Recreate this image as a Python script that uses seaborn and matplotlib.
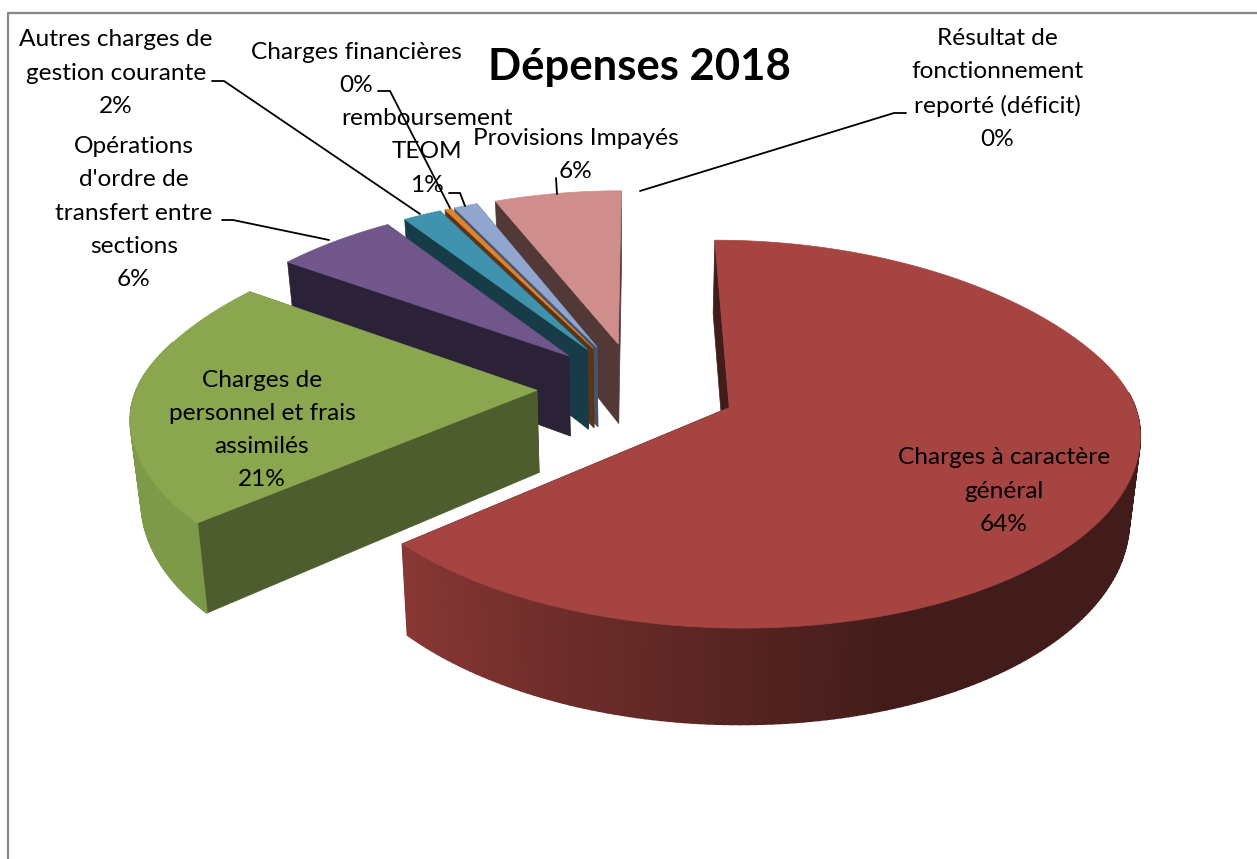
#!/usr/bin/env python3
# -*- coding: utf-8 -*-
"""Dépenses 2018 - camembert 3D éclaté"""

import numpy as np
import matplotlib
matplotlib.use('Agg')
import matplotlib.pyplot as plt
import seaborn as sns

# donnees (parts en %)
categories = ['Charges à caractère général', 'Charges de personnel et frais assimilés',
              "Opérations d'ordre de transfert entre sections",
              'Autres charges de gestion courante', 'Charges financières',
              'remboursement TEOM', 'Provisions Impayés',
              'Résultat de fonctionnement reporté (déficit)']
values = [63.7, 21.0, 5.75, 1.85, 0.3, 1.15, 6.25, 0.0]
explode = [0.25, 0.25, 0.25, 0.25, 0.25, 0.25, 0.25, 0.25]

top_colors = ['#A64441', '#8AA64E', '#71568C', '#3F93AE', '#DE8431', '#91A6CE', '#CF8E8C', '#CF8E8C']
cut_colors = ['#421C1A', '#4E5D2E', '#2C2238', '#183B48', '#5A3518', '#47546D', '#533838', '#533838']
wall_light = ['#8A3835', '#7D9A48', '#5F4876', '#357C93', '#BB6F29', '#7A8CAE', '#AF7876', '#AF7876']

# etiquettes: texte, x, y du centre
labels = [
    ('Charges à caractère\ngénéral\n64%', 1004, 491),
    ('Charges de\npersonnel et frais\nassimilés\n21%', 262, 430),
    ("Opérations\nd'ordre de\ntransfert entre\nsections\n6%", 134, 213),
    ('Autres charges de\ngestion courante\n2%', 116, 73),
    ('Charges financières\n0%', 356, 69),
    ('remboursement\nTEOM\n1%', 427, 152),
    ('Provisions Impayés\n6%', 576, 155),
    ('Résultat de\nfonctionnement\nreporté (déficit)\n0%', 997, 89),
]

# traits de rappel
leaders = [
    ([212, 224, 420], [81, 81, 214]),
    ([378, 390, 450], [91, 91, 208]),
    ([449, 460, 465], [193, 193, 206]),
    ([556, 557], [178, 194]),
    ([906, 894, 640], [113, 113, 191]),
    ([222, 233, 329], [220, 220, 240]),
]

# projection
CX, CY = 637, 388
RX, RY = 400, 185
PERSP = 0.135
DEPTH = 82
TAPER = 0.022


def project(x, y, z=0.0):
    """sol (x droite, y vers le spectateur) -> pixels"""
    x, y = np.asarray(x, float), np.asarray(y, float)
    s = 1.0 / (1.0 - PERSP * y)
    # perspective horizontale plus forte vers le fond
    sx = 1.0 / (1.0 - (0.156 - 0.031 * np.tanh(4 * y)) * y)
    return CX + RX * x * sx * (1 - TAPER * z / DEPTH), CY + RY * y * s + z * s


def mix(c1, c2, t):
    c1 = np.array(matplotlib.colors.to_rgb(c1))
    c2 = np.array(matplotlib.colors.to_rgb(c2))
    return tuple(c1 + (c2 - c1) * t)


def draw_slice(ax, start, end, ex, top, cut, light):
    mid = np.radians((start + end) / 2)
    ox, oy = ex * np.sin(mid), -ex * np.cos(mid)
    th = np.radians(np.linspace(start, end, max(int(end - start), 4)))
    arc_x = ox + np.sin(th)
    arc_y = oy - np.cos(th)

    # faces de coupe
    for i in (0, -1):
        a = [project(ox, oy), project(arc_x[i], arc_y[i]),
             project(arc_x[i], arc_y[i], DEPTH), project(ox, oy, DEPTH)]
        ax.fill(*zip(*a), color=cut, lw=0.5)

    # paroi exterieure, par bandes (seulement le cote visible)
    for j in range(len(th) - 1):
        deg = np.degrees(th[j])
        if deg < 85 or deg > 285:
            continue
        t = np.clip((deg - 160) / 70, 0, 1)
        col = mix(cut, light, t)
        q = [project(arc_x[j], arc_y[j]), project(arc_x[j + 1], arc_y[j + 1]),
             project(arc_x[j + 1], arc_y[j + 1], DEPTH), project(arc_x[j], arc_y[j], DEPTH)]
        ax.fill(*zip(*q), color=col, lw=1.2)

    # dessus
    px, py = project(arc_x, arc_y)
    cx0, cy0 = project(ox, oy)
    ax.fill(np.r_[cx0, px], np.r_[cy0, py], color=top, lw=0.5)


def main():
    sns.set_theme(style='white')
    plt.rcParams['font.family'] = ['Lato', 'DejaVu Sans']

    fig = plt.figure(figsize=(12.57, 8.59), dpi=100)
    ax = fig.add_axes([0, 0, 1, 1])
    ax.set_xlim(0, 1257)
    ax.set_ylim(859, 0)
    ax.axis('off')

    # cadre
    ax.plot([8, 8, 1257], [859, 13, 13], color='#868686', lw=1.6)

    palette = sns.color_palette(top_colors)
    total = sum(values)
    bounds = np.r_[0, np.cumsum(values)] / total * 360

    # du fond vers l'avant
    for i in [6, 5, 4, 3, 2, 1, 0]:
        draw_slice(ax, bounds[i], bounds[i + 1], explode[i], palette[i], cut_colors[i], wall_light[i])

    for xs, ys in leaders:
        ax.plot(xs, ys, color='black', lw=1.3, solid_joinstyle='miter')

    for txt, x, y in labels:
        ax.text(x, y, txt, ha='center', va='center', fontsize=17.6, color='black', linespacing=1.72)

    ax.text(639, 67, 'Dépenses 2018', ha='center', va='center', fontsize=31.4,
            fontweight='bold', color='black')

    fig.savefig('out.png', dpi=100)


if __name__ == "__main__":
    main()
